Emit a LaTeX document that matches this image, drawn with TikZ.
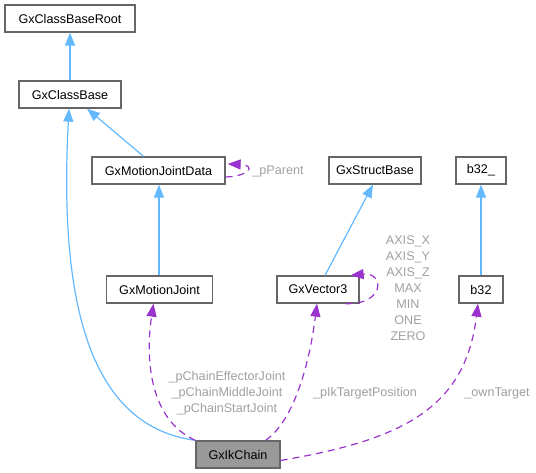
\documentclass[tikz,border=0pt]{standalone}
\usepackage{fontspec}
\setmainfont{Liberation Sans}
\usetikzlibrary{arrows.meta,calc}
\definecolor{inhblue}{HTML}{63B8FF}
\definecolor{usepurple}{HTML}{9A32CD}
\definecolor{labgrey}{HTML}{A0A0A0}
\definecolor{boxgrey}{HTML}{666666}

\begin{document}
\begin{tikzpicture}[x=1pt,y=-1pt,font=\fontsize{12.6}{16}\selectfont,
 cls/.style={draw=boxgrey,fill=white,line width=1.3pt,minimum height=27pt,inner sep=0pt},
 inh/.style={-{Triangle[length=13pt,width=10pt]},line width=1.2pt,draw=inhblue},
 dep/.style={-{Triangle[length=13pt,width=10pt]},line width=1.2pt,draw=usepurple,dash pattern=on 7pt off 5pt},
 lab/.style={text=labgrey,align=center,inner sep=0pt}]
\useasboundingbox (0,0) rectangle (536,473);
% classes
\node[cls,minimum width=130pt] (root) at (70,18.5) {GxClassBaseRoot};
\node[cls,minimum width=102pt] (base) at (70,94.5) {GxClassBase};
\node[cls,minimum width=133pt] (mjd) at (158.5,170.5) {GxMotionJointData};
\node[cls,minimum width=92pt] (sbase) at (375,170.5) {GxStructBase};
\node[cls,minimum width=50pt] (bu) at (481,170.5) {b32\_};
\node[cls,minimum width=106pt] (mj) at (159.5,289.5) {GxMotionJoint};
\node[cls,minimum width=82pt] (vec) at (318,289.5) {GxVector3};
\node[cls,minimum width=44pt] (bt) at (481,289.5) {b32};
\node[cls,fill=black!40,minimum width=84pt] (ik) at (238,454.5) {GxIkChain};
% inheritance
\draw[inh] (base) -- (root);
\draw[inh] ([xshift=-15pt]mjd.north) -- ([xshift=17pt]base.south);
\draw[inh] (ik.north west) .. controls (80,425) and (60,280) .. ([xshift=-1pt]base.south);
\draw[inh] ([xshift=-0.5pt]mj.north) -- ([xshift=-0.5pt]mj.north |- mjd.south);
\draw[inh] ([xshift=7pt]vec.north) -- ([xshift=-2pt]sbase.south);
\draw[inh] (bt) -- (bu);
% members
\draw[dep] ([yshift=-6.5pt]mjd.east) .. controls +(25,-1) and +(28,1) .. ([yshift=6.5pt,xshift=2pt]mjd.east);
\node[lab] (ppar) at (278,171) {\_pParent};
\draw[dep] ([xshift=-14pt]vec.south east) .. controls (385,305) and (385,272) .. ([xshift=-9pt]vec.north east);
\node[lab] (veclab) at (408,288.5) {AXIS\_X\\AXIS\_Y\\AXIS\_Z\\MAX\\MIN\\ONE\\ZERO};
\draw[dep] (ik.north west) .. controls (150,420) and (145,360) .. ([xshift=-6pt]mj.south);
\node[lab] (chainlab) at (227,393) {\_pChainEffectorJoint\\\_pChainMiddleJoint\\\_pChainStartJoint};
\draw[dep] ([xshift=-15pt]ik.north east) .. controls (295,420) and (310,360) .. ([xshift=-1pt]vec.south);
\node[lab] (tgtlab) at (365,393) {\_pIkTargetPosition};
\draw[dep] ([yshift=-6pt]ik.east) .. controls (400,440) and (465,410) .. ([xshift=-3pt]bt.south);
\node[lab] (ownlab) at (497,393) {\_ownTarget};
\end{tikzpicture}
\end{document}
